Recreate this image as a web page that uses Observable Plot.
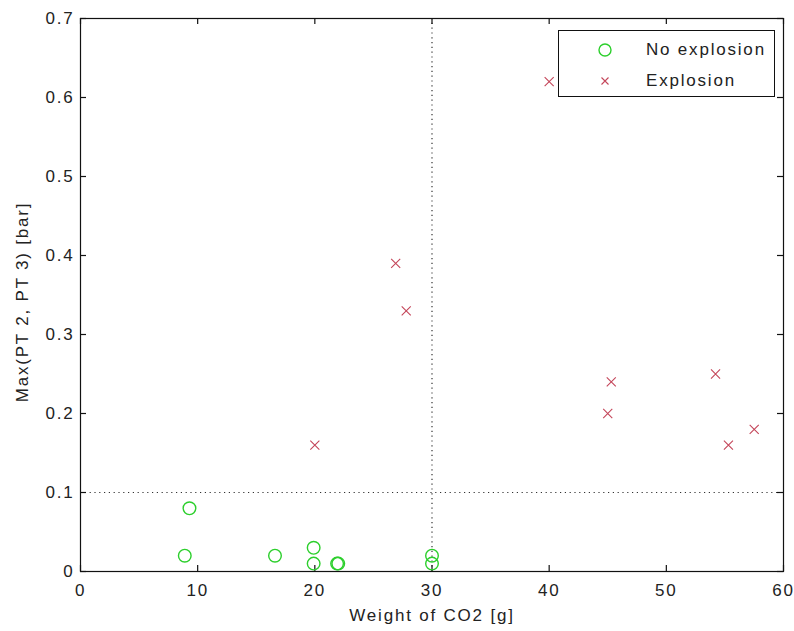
<!DOCTYPE html>
<html>
<head>
<meta charset="utf-8">
<script src="https://cdn.jsdelivr.net/npm/d3@7"></script>
<script src="https://cdn.jsdelivr.net/npm/@observablehq/plot@0.6"></script>
<style>
  html, body { margin: 0; padding: 0; background: #fff; }
  #wrap { position: relative; width: 794px; height: 631px; }
  #legend {
    position: absolute; left: 558px; top: 30px; width: 215px; height: 65px;
    border: 1px solid #111; background: #fff;
    font-family: "Liberation Sans", Arial, sans-serif; font-size: 17px; letter-spacing: 1.8px; color: #222;
  }
  .row { position: absolute; left: 0; height: 20px; display: flex; align-items: center; }
  .row svg { position: absolute; left: 38px; }
  .row span { position: absolute; left: 87px; white-space: nowrap; }
</style>
</head>
<body>
<div id="wrap"></div>
<script>
// Data
const noExplosionWeight = [9.3, 8.9, 16.6, 19.9, 19.9, 21.9, 22.0, 30.0, 30.0];
const noExplosionPressure = [0.08, 0.02, 0.02, 0.03, 0.01, 0.01, 0.01, 0.02, 0.01];
const explosionWeight = [20.0, 26.9, 27.8, 40.0, 45.3, 45.0, 54.2, 55.3, 57.5];
const explosionPressure = [0.16, 0.39, 0.33, 0.62, 0.24, 0.20, 0.25, 0.16, 0.18];
const xTicks = [0, 10, 20, 30, 40, 50, 60];
const yTicks = [0, 0.1, 0.2, 0.3, 0.4, 0.5, 0.6, 0.7];
const thresholdWeight = [30];
const thresholdPressure = [0.1];
const seriesNames = ["No explosion", "Explosion"];
const xLabel = "Weight of CO2 [g]";
const yLabel = "Max(PT 2, PT 3) [bar]";

const green = "#2ccf2c";
const red = "#c4465a";

const noExp = noExplosionWeight.map((w, i) => ({w, p: noExplosionPressure[i]}));
const exp = explosionWeight.map((w, i) => ({w, p: explosionPressure[i]}));

const W = 794, H = 631, mT = 18, mB = 60, mL = 80, mR = 11;
const fh = H - mT - mB, fw = W - mL - mR;
const tick = 6;

const chart = Plot.plot({
  width: W, height: H,
  marginTop: mT, marginBottom: mB, marginLeft: mL, marginRight: mR,
  style: {fontFamily: '"Liberation Sans", Arial, sans-serif', fontSize: "17px", letterSpacing: "1.8px", color: "#222", background: "#fff"},
  x: {domain: [0, 60]},
  y: {domain: [0, 0.7]},
  marks: [
    Plot.ruleX(thresholdWeight, {x: d => d, stroke: "#333", strokeDasharray: "1.2,3.6", strokeWidth: 1.2}),
    Plot.ruleY(thresholdPressure, {y: d => d, stroke: "#333", strokeDasharray: "1.2,3.6", strokeWidth: 1.2}),
    Plot.tickX(xTicks, {x: d => d, insetTop: fh - tick, stroke: "#111", strokeWidth: 1.2}),
    Plot.tickX(xTicks, {x: d => d, insetBottom: fh - tick, stroke: "#111", strokeWidth: 1.2}),
    Plot.tickY(yTicks, {y: d => d, insetRight: fw - tick, stroke: "#111", strokeWidth: 1.2}),
    Plot.tickY(yTicks, {y: d => d, insetLeft: fw - tick, stroke: "#111", strokeWidth: 1.2}),
    Plot.axisX({ticks: xTicks, tickSize: 0, tickPadding: 12, label: null, tickFormat: d3.format("d")}),
    Plot.axisY({ticks: yTicks, tickSize: 0, tickPadding: 6, label: null, tickFormat: d => String(+d.toFixed(1))}),
    Plot.text([xLabel], {text: d => d, frameAnchor: "bottom", dy: 44, lineAnchor: "middle", textAnchor: "middle", fill: "#222"}),
    Plot.text([yLabel], {text: d => d, frameAnchor: "left", rotate: -90, dx: -58, dy: 7, lineAnchor: "middle", textAnchor: "middle", fill: "#222"}),
    Plot.dot(noExp, {x: "w", y: "p", r: 6.3, stroke: green, strokeWidth: 1.4, fill: "none"}),
    Plot.dot(exp, {x: "w", y: "p", r: 4.2, symbol: "times", stroke: red, strokeWidth: 1.1}),
    Plot.frame({stroke: "#111", strokeWidth: 1.2})
  ]
});

const wrap = document.getElementById("wrap");
wrap.appendChild(chart);

const legend = document.createElement("div");
legend.id = "legend";
legend.innerHTML = `
  <div class="row" style="top:9px"><svg width="16" height="16" viewBox="-8 -8 16 16"><circle r="6" fill="none" stroke="${green}" stroke-width="1.4"/></svg><span>${seriesNames[0]}</span></div>
  <div class="row" style="top:40px"><svg width="16" height="16" viewBox="-8 -8 16 16"><path d="M-3.5,-3.5L3.5,3.5M-3.5,3.5L3.5,-3.5" stroke="${red}" stroke-width="1.1"/></svg><span>${seriesNames[1]}</span></div>`;
wrap.appendChild(legend);
</script>
</body>
</html>
